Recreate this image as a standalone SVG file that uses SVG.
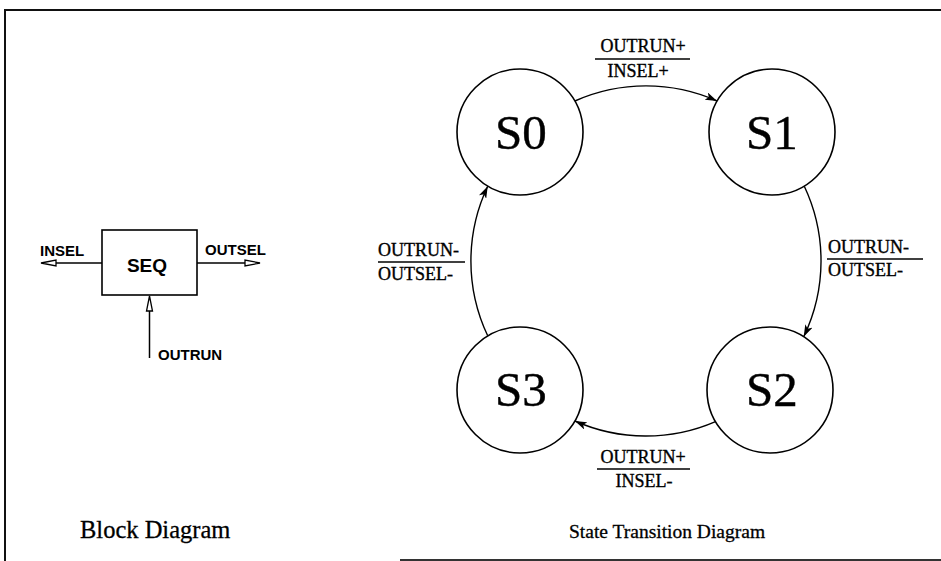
<svg xmlns="http://www.w3.org/2000/svg" width="941" height="561" viewBox="0 0 941 561">
<defs>
<style>
.frame{stroke:#111;stroke-width:2;fill:none}
.state{fill:#fff;stroke:#000;stroke-width:1.6}
.stxt{font-family:"Liberation Serif","Times New Roman",serif;font-size:49px;fill:#000;stroke:#000;stroke-width:0.4;text-anchor:middle}
.lbl{font-family:"Liberation Serif","Times New Roman",serif;font-size:18px;fill:#000;stroke:#000;stroke-width:0.35}
.cap{font-family:"Liberation Serif","Times New Roman",serif;fill:#000;stroke:#000;stroke-width:0.3}
.bar{stroke:#000;stroke-width:1.5}
.arc{fill:none;stroke:#000;stroke-width:1.4}
.blk{fill:#fff;stroke:#000;stroke-width:1.6}
.btxt{font-family:"Liberation Sans",Arial,sans-serif;font-weight:bold;fill:#000}
.wire{stroke:#000;stroke-width:1.5;fill:none}
.hollow{fill:#fff;stroke:#000;stroke-width:1.3}
</style>
<marker id="ah" markerUnits="userSpaceOnUse" markerWidth="13" markerHeight="8" refX="12" refY="4" orient="auto">
<path d="M0,0 L12,4 L0,8 L3,4 z" fill="#000"/>
</marker>
</defs>
<rect width="941" height="561" fill="#fff"/>
<!-- frame -->
<path class="frame" d="M5,561 V10 H941"/>
<line x1="400" y1="560" x2="941" y2="560" stroke="#333" stroke-width="2"/>

<!-- Block diagram -->
<g id="SEQ">
<rect class="blk" x="102" y="230" width="95" height="65"/>
<text class="btxt" x="147" y="272" font-size="19" text-anchor="middle">SEQ</text>
</g>
<g id="block-connectors">
<line class="wire" x1="102" y1="263" x2="56" y2="263"/>
<polygon class="hollow" points="41,263 56,260 56,266"/>
<line class="wire" x1="197" y1="263" x2="245" y2="263"/>
<polygon class="hollow" points="260,263 245,260 245,266"/>
<line class="wire" x1="149.5" y1="358" x2="149.5" y2="311"/>
<polygon class="hollow" points="149.5,296 146.5,311 152.5,311"/>
</g>
<g id="block-labels">
<text class="btxt" x="40" y="256" font-size="15">INSEL</text>
<text class="btxt" x="205" y="255" font-size="15">OUTSEL</text>
<text class="btxt" x="158" y="360" font-size="15">OUTRUN</text>
</g>

<!-- State diagram connectors -->
<g id="connectors">
<path class="arc" d="M574.9,101 A175,175 0 0 1 717.1,101" marker-end="url(#ah)"/>
<path class="arc" d="M804.3,186.2 A175,175 0 0 1 803.7,336.8" marker-end="url(#ah)"/>
<path class="arc" d="M715.5,421.6 A175,175 0 0 1 574.9,421" marker-end="url(#ah)"/>
<path class="arc" d="M487.7,335.8 A175,175 0 0 1 487.7,186.2" marker-end="url(#ah)"/>
</g>

<g id="S0">
<circle class="state" cx="520" cy="132" r="63"/>
<text class="stxt" x="521" y="149">S0</text>
</g>
<g id="S1">
<circle class="state" cx="772" cy="132" r="63"/>
<text class="stxt" x="772" y="149">S1</text>
</g>
<g id="S2">
<circle class="state" cx="770" cy="390" r="63"/>
<text class="stxt" x="772" y="406">S2</text>
</g>
<g id="S3">
<circle class="state" cx="520" cy="390" r="63"/>
<text class="stxt" x="521" y="406">S3</text>
</g>

<!-- transition labels -->
<g id="label-S0-S1">
<text class="lbl" x="643" y="52" text-anchor="middle">OUTRUN+</text>
<line class="bar" x1="595" y1="59" x2="690" y2="59"/>
<text class="lbl" x="638" y="77" text-anchor="middle">INSEL+</text>
</g>
<g id="label-S1-S2">
<text class="lbl" x="828" y="253">OUTRUN-</text>
<line class="bar" x1="827" y1="259" x2="923" y2="259"/>
<text class="lbl" x="828" y="276">OUTSEL-</text>
</g>
<g id="label-S2-S3">
<text class="lbl" x="643" y="463" text-anchor="middle">OUTRUN+</text>
<line class="bar" x1="597" y1="469" x2="690" y2="469"/>
<text class="lbl" x="644" y="487" text-anchor="middle">INSEL-</text>
</g>
<g id="label-S3-S0">
<text class="lbl" x="378" y="256">OUTRUN-</text>
<line class="bar" x1="378" y1="262" x2="465" y2="262"/>
<text class="lbl" x="378" y="280">OUTSEL-</text>
</g>

<!-- captions -->
<text class="cap" x="80" y="538" font-size="24.5">Block Diagram</text>
<text class="cap" x="569" y="538" font-size="19.5">State Transition Diagram</text>
</svg>
